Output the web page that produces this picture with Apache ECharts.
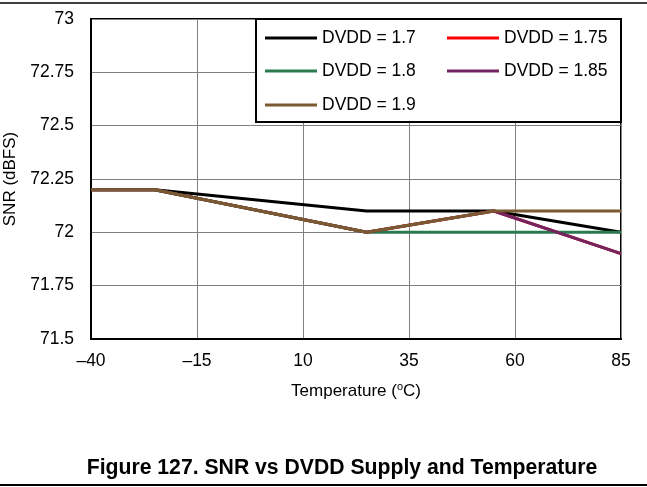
<!DOCTYPE html>
<html>
<head>
<meta charset="utf-8">
<script src="https://cdn.jsdelivr.net/npm/echarts@6/dist/echarts.min.js"></script>
<style>
html,body{margin:0;padding:0;background:#fff;}
#c{width:647px;height:487px;}
</style>
</head>
<body>
<div id="c"></div>
<script>
var temps = [-40, -25, 25, 55, 85];
var seriesNames = ['DVDD = 1.7', 'DVDD = 1.75', 'DVDD = 1.8', 'DVDD = 1.85', 'DVDD = 1.9'];
var dvdd17  = [72.2, 72.2, 72.1, 72.1, 72.0];
var dvdd175 = [72.2, 72.2, 72.0, 72.1, 71.9];
var dvdd18  = [72.2, 72.2, 72.0, 72.0, 72.0];
var dvdd185 = [72.2, 72.2, 72.0, 72.1, 71.9];
var dvdd19  = [72.2, 72.2, 72.0, 72.1, 72.1];
var seriesValues = [dvdd17, dvdd175, dvdd18, dvdd185, dvdd19];
var colors = ['#000000', '#ff0000', '#2a7a50', '#722460', '#7a5a30'];

var FONT = 'Liberation Sans, Arial, sans-serif';
var chart = echarts.init(document.getElementById('c'));

var legendPos = [
  {left: 265, top: 29}, {left: 447, top: 29},
  {left: 265, top: 62}, {left: 447, top: 62},
  {left: 265, top: 96}
];

var option = {
  animation: false,
  backgroundColor: '#fff',
  color: colors,
  title: {
    text: 'Figure 127. SNR vs DVDD Supply and Temperature',
    left: 337, top: 453, textAlign: 'center',
    textStyle: {fontFamily: FONT, fontSize: 21.2, fontWeight: 'bold', color: '#000'}
  },
  legend: seriesNames.map(function (n, i) {
    return {
      data: [n], left: legendPos[i].left, top: legendPos[i].top, padding: 0, z: 20,
      icon: 'rect', itemWidth: 52, itemHeight: 3, itemGap: 0,
      textStyle: {fontFamily: FONT, fontSize: 17.5, color: '#000'}
    };
  }),
  grid: {left: 91, right: 26, top: 19, bottom: 148, show: true, borderColor: '#000', borderWidth: 2,
    containLabel: false, outerBoundsMode: 'none'},
  xAxis: {
    type: 'value', min: -40, max: 85, interval: 25,
    name: 'Temperature ({s|o}C)', nameLocation: 'middle', nameGap: 42,
    nameTextStyle: {fontFamily: FONT, fontSize: 17, color: '#000',
      rich: {s: {fontFamily: FONT, fontSize: 11, verticalAlign: 'top', padding: [0,0,9,0], color: '#000'}}},
    axisLine: {show: true, onZero: false, lineStyle: {color: '#000', width: 2}},
    axisTick: {show: false},
    splitLine: {show: true, lineStyle: {color: '#808080', width: 1}},
    axisLabel: {fontFamily: FONT, fontSize: 17.5, color: '#000', margin: 13,
      formatter: function (v) { return String(v).replace('-', '\u2013'); }}
  },
  yAxis: {
    type: 'value', min: 71.5, max: 73, interval: 0.25,
    name: 'SNR (dBFS)', nameLocation: 'middle', nameGap: 69,
    nameTextStyle: {fontFamily: FONT, fontSize: 17, color: '#000'},
    axisLine: {show: true, onZero: false, lineStyle: {color: '#000', width: 2}},
    axisTick: {show: false},
    splitLine: {show: true, lineStyle: {color: '#808080', width: 1}},
    axisLabel: {fontFamily: FONT, fontSize: 17.5, color: '#000', margin: 17}
  },
  graphic: [
    {type: 'line', z: 0, shape: {x1: 0, y1: 3, x2: 647, y2: 3}, style: {stroke: '#000', lineWidth: 1.5}},
    {type: 'line', z: 0, shape: {x1: 0, y1: 485, x2: 647, y2: 485}, style: {stroke: '#000', lineWidth: 2}},
    {type: 'rect', z: 10, shape: {x: 256, y: 19, width: 365, height: 103}, style: {fill: '#fff', stroke: '#000', lineWidth: 2}}
  ],
  series: seriesNames.map(function (n, i) {
    return {
      name: n, type: 'line', showSymbol: false, symbol: 'none',
      lineStyle: {width: 3, color: colors[i]}, itemStyle: {color: colors[i]},
      data: temps.map(function (t, j) { return [t, seriesValues[i][j]]; }),
      z: 2 + i
    };
  })
};
chart.setOption(option);
</script>
</body>
</html>
